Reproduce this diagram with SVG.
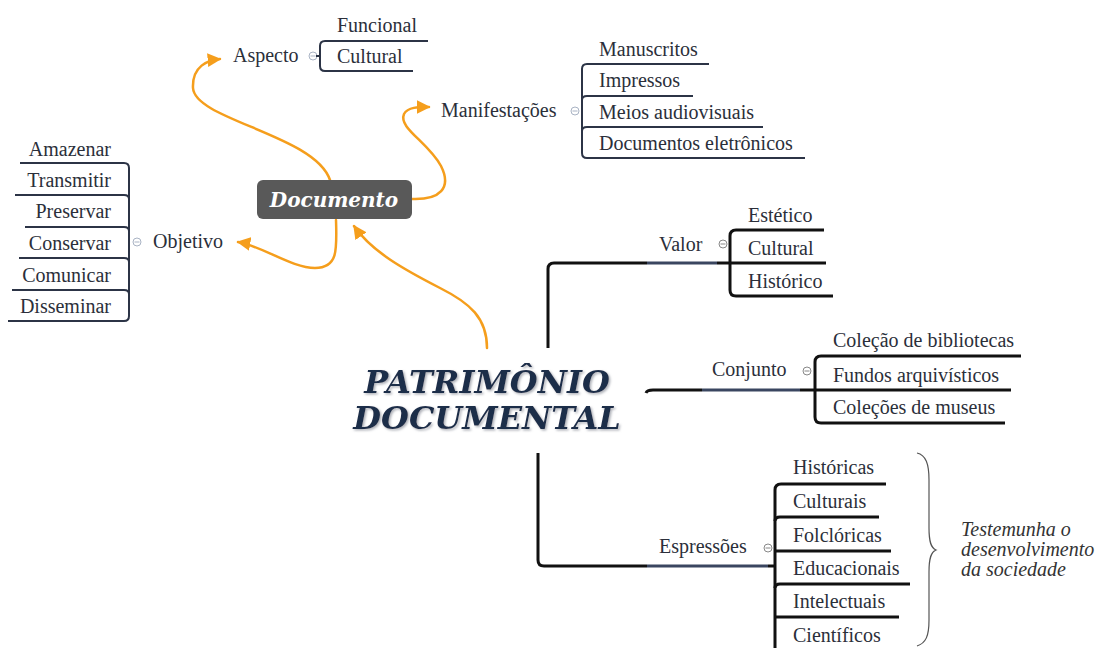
<svg xmlns="http://www.w3.org/2000/svg" width="1096" height="648" viewBox="0 0 1096 648">
<style>
.t{font-family:"Liberation Serif","DejaVu Serif",serif;font-size:20px;fill:#2b2f3a}
.br{fill:none;stroke:#2c3446;stroke-width:2;stroke-linejoin:round}
.bk{fill:none;stroke:#111;stroke-width:3;stroke-linejoin:round}
.nv{fill:none;stroke:#3a4660;stroke-width:3}
.or{fill:none;stroke:#f59e1c;stroke-width:2.5;stroke-linecap:round}
.ic{fill:#fff;stroke:#a9b3c4;stroke-width:1}
.ic2{fill:#fff;stroke:#888;stroke-width:1}
.title{font-family:"DejaVu Serif",serif;font-size:32px;font-weight:bold;font-style:italic;fill:#1f2d4a}
</style>
<defs>
<marker id="ah" viewBox="0 0 10 10" refX="9" refY="5" markerWidth="5.5" markerHeight="5.5" orient="auto" markerUnits="strokeWidth">
<path d="M0,0 L10,5 L0,10 Z" fill="#f59e1c"/>
</marker>
<filter id="sh" x="-10%" y="-20%" width="120%" height="150%">
<feDropShadow dx="1.5" dy="1.5" stdDeviation="0.8" flood-color="#8a8f99" flood-opacity="0.7"/>
</filter>
</defs>
<rect width="1096" height="648" fill="#fff"/>

<g id="connectors">
<path class="or" d="M330,180 C315,135 195,120 193,88 C192,66 208,60 220,59" marker-end="url(#ah)"/>
<path class="or" d="M412,199 C440,200 452,188 441,166 C428,142 398,128 404,114 C408,107 418,107 429,107" marker-end="url(#ah)"/>
<path class="or" d="M336,220 C337,250 338,268 315,268 C292,268 262,246 238,242" marker-end="url(#ah)"/>
<path class="or" d="M487,348 C487,318 470,303 440,288 C405,270 372,252 354,226" marker-end="url(#ah)"/>
<path class="bk" d="M548,348 L548,269 Q548,263 554,263 L647,263"/>
<path class="nv" d="M647,263 L717,263"/>
<path class="bk" d="M717,263 L730,263"/>
<path class="bk" d="M646,393 Q647,390 653,390 L702,390"/>
<path class="nv" d="M702,390 L800,390"/>
<path class="bk" d="M800,390 L815,390"/>
<path class="bk" d="M538,453 L538,560 Q538,566 544,566 L647,566"/>
<path class="nv" d="M647,566 L768,566"/>
<path class="bk" d="M768,566 L775,566"/>
</g>

<g id="aspecto">
<text class="t" x="233" y="62">Aspecto</text>
<circle class="ic" cx="313" cy="56" r="4"/><path d="M310.5,56 L315.5,56" stroke="#a9b3c4" stroke-width="1"/>
<path class="br" d="M428,41 L325,41 Q320,41 320,46 L320,66 Q320,71 325,71 L413,71"/>
<path class="br" d="M316,56 L320,56"/>
<text class="t" x="337" y="32">Funcional</text>
<text class="t" x="337" y="63">Cultural</text>
</g>

<g id="manifestacoes">
<text class="t" x="441" y="117">Manifestações</text>
<circle class="ic" cx="575" cy="111" r="4"/><path d="M572.5,111 L577.5,111" stroke="#a9b3c4" stroke-width="1"/>
<path class="br" d="M709,64 L587,64 Q582,64 582,69 L582,153 Q582,158 587,158 L805,158"/>
<path class="br" d="M582,100 Q582,96 587,96 L693,96"/>
<path class="br" d="M582,131 Q582,127 587,127 L763,127"/>
<text class="t" x="599" y="56">Manuscritos</text>
<text class="t" x="599" y="87">Impressos</text>
<text class="t" x="599" y="119">Meios audiovisuais</text>
<text class="t" x="599" y="150">Documentos eletrônicos</text>
</g>

<g id="objetivo">
<text class="t" x="153" y="248">Objetivo</text>
<circle class="ic" cx="137" cy="242" r="4"/><path d="M134.5,242 L139.5,242" stroke="#a9b3c4" stroke-width="1"/>
<path class="br" d="M20,163 L124,163 Q129,163 129,168 L129,316 Q129,321 124,321 L8,321"/>
<path class="br" d="M15,195 L124,195 Q129,195 129,199"/>
<path class="br" d="M25,227 L124,227 Q129,227 129,231"/>
<path class="br" d="M19,258 L124,258 Q129,258 129,262"/>
<path class="br" d="M12,290 L124,290 Q129,290 129,294"/>
<text class="t" x="111" y="156" text-anchor="end">Amazenar</text>
<text class="t" x="111" y="187" text-anchor="end">Transmitir</text>
<text class="t" x="111" y="218" text-anchor="end">Preservar</text>
<text class="t" x="111" y="250" text-anchor="end">Conservar</text>
<text class="t" x="111" y="282" text-anchor="end">Comunicar</text>
<text class="t" x="111" y="313" text-anchor="end">Disseminar</text>
</g>

<g id="documento">
<rect x="257" y="180" width="155" height="39" rx="6" fill="#595959"/>
<text x="334" y="207" text-anchor="middle" font-family="DejaVu Serif, serif" font-size="20" font-weight="bold" font-style="italic" fill="#fff">Documento</text>
</g>

<g id="patrimonio" filter="url(#sh)">
<text class="title" x="487" y="393" text-anchor="middle">PATRIMÔNIO</text>
<text class="title" x="487" y="429" text-anchor="middle">DOCUMENTAL</text>
</g>

<g id="valor">
<text class="t" x="659" y="251">Valor</text>
<circle class="ic2" cx="723" cy="244" r="4"/><path d="M720.5,244 L725.5,244" stroke="#888" stroke-width="1"/>
<path class="bk" d="M824,230 L736,230 Q730,230 730,236 L730,290 Q730,296 736,296 L833,296"/>
<path class="bk" d="M730,263 L826,263"/>
<text class="t" x="748" y="222">Estético</text>
<text class="t" x="748" y="255">Cultural</text>
<text class="t" x="748" y="288">Histórico</text>
</g>

<g id="conjunto">
<text class="t" x="712" y="376">Conjunto</text>
<circle class="ic2" cx="807" cy="371" r="4"/><path d="M804.5,371 L809.5,371" stroke="#888" stroke-width="1"/>
<path class="bk" d="M1021,356 L821,356 Q815,356 815,362 L815,417 Q815,423 821,423 L1005,423"/>
<path class="bk" d="M815,390 L1011,390"/>
<text class="t" x="833" y="347">Coleção de bibliotecas</text>
<text class="t" x="833" y="382">Fundos arquivísticos</text>
<text class="t" x="833" y="414">Coleções de museus</text>
</g>

<g id="espressoes">
<text class="t" x="659" y="553">Espressões</text>
<circle class="ic2" cx="768" cy="548" r="4"/><path d="M765.5,548 L770.5,548" stroke="#888" stroke-width="1"/>
<path class="bk" d="M886,484 L781,484 Q775,484 775,490 L775,660"/>
<path class="bk" d="M775,521 Q775,517 780,517 L879,517"/>
<path class="bk" d="M775,551 L891,551"/>
<path class="bk" d="M775,588 Q775,584 780,584 L910,584"/>
<path class="bk" d="M775,617 L899,617"/>
<text class="t" x="793" y="474">Históricas</text>
<text class="t" x="793" y="508">Culturais</text>
<text class="t" x="793" y="542">Folclóricas</text>
<text class="t" x="793" y="575">Educacionais</text>
<text class="t" x="793" y="608">Intelectuais</text>
<text class="t" x="793" y="642">Científicos</text>
</g>

<g id="brace">
<path d="M917,453 C926,455 929,464 929,480 L929,528 C929,542 931,548 936,550 C931,552 929,558 929,572 L929,620 C929,636 926,643 917,646" fill="none" stroke="#555" stroke-width="1.2"/>
<text font-family="Liberation Serif, DejaVu Serif, serif" font-size="20" font-style="italic" fill="#333">
<tspan x="961" y="536">Testemunha o</tspan>
<tspan x="961" y="556">desenvolvimento</tspan>
<tspan x="961" y="576">da sociedade</tspan>
</text>
</g>
</svg>
